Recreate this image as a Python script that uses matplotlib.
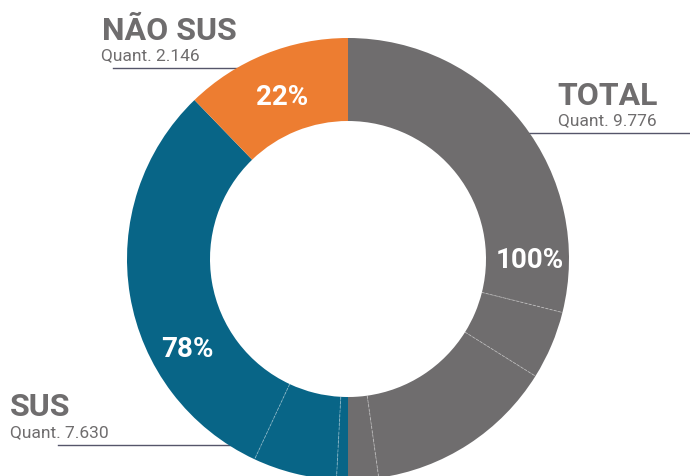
import numpy as np
import matplotlib
matplotlib.use("Agg")
import matplotlib.pyplot as plt

# totals shown in the callouts
total = 9776
sus = 7630
nao_sus = 2146

# slice sizes (degrees of the full circle)
total_slices = [104, 18, 50, 8]
sus_slices = [3, 22, 111]
nao_sus_slices = [44]

GRAY = "#6f6d6e"
BLUE = "#086587"
ORANGE = "#ed7d31"
LINE = "#55556a"

plt.rcParams['font.family'] = ['Roboto', 'DejaVu Sans']

vals = total_slices + sus_slices + nao_sus_slices
colors = ([GRAY] * len(total_slices) + [BLUE] * len(sus_slices)
          + [ORANGE] * len(nao_sus_slices))

fig = plt.figure(figsize=(6.9, 4.77), dpi=100)
ax = fig.add_axes([0, 0, 1, 1])

cx, cy = 348, 477 - 260
r_out, r_in = 221, 138
ax.pie(vals, colors=colors, startangle=90, counterclock=False,
       center=(cx, cy), radius=r_out, frame=True,
       wedgeprops=dict(width=r_out - r_in, linewidth=0))
ax.set_xlim(0, 690)
ax.set_ylim(0, 477)
ax.set_aspect('equal')
ax.axis('off')


def ang(deg):
    # clockwise from top -> math angle
    return np.deg2rad(90 - deg)


# faint separators inside each group
cum = np.cumsum(vals)
bounds = []
start = 0
for grp in (total_slices, sus_slices, nao_sus_slices):
    for k in range(len(grp) - 1):
        bounds.append(cum[start + k])
    start += len(grp)
for b in bounds:
    a = ang(b)
    ax.plot([cx + r_in * np.cos(a), cx + r_out * np.cos(a)],
            [cy + r_in * np.sin(a), cy + r_out * np.sin(a)],
            color="white", alpha=0.35, lw=0.7, ls=(0, (3, 1.5)))

# percentage labels (angle clockwise from top, radius)
label_pos = [(90, 182), (241, 184), (338, 175)]
for n, (deg, rr) in zip([total, sus, nao_sus], label_pos):
    a = ang(deg)
    ax.text(cx + rr * np.cos(a), cy + rr * np.sin(a),
            f"{round(100 * n / total)}%", color="white", fontsize=20,
            fontweight='bold', ha='center', va='center')


def fmt(n):
    return f"{n:,}".replace(",", ".")


# callouts
ax.text(102, 477 - 40, "NÃO SUS", color=GRAY, fontsize=23, fontweight='bold',
        ha='left', va='baseline')
ax.text(101, 477 - 60, f"Quant. {fmt(nao_sus)}", color=GRAY, fontsize=12.5,
        ha='left', va='baseline')
ax.plot([113, 240], [477 - 69, 477 - 69], color=LINE, lw=1, zorder=0)

ax.text(658, 477 - 105, "TOTAL", color=GRAY, fontsize=23, fontweight='bold',
        ha='right', va='baseline')
ax.text(657, 477 - 125, f"Quant. {fmt(total)}", color=GRAY, fontsize=12.5,
        ha='right', va='baseline')
ax.plot([520, 690], [477 - 134, 477 - 134], color=LINE, lw=1, zorder=0)

ax.text(10, 477 - 416, "SUS", color=GRAY, fontsize=23, fontweight='bold',
        ha='left', va='baseline')
ax.text(10, 477 - 437, f"Quant. {fmt(sus)}", color=GRAY, fontsize=12.5,
        ha='left', va='baseline')
ax.plot([58, 275], [477 - 446, 477 - 446], color=LINE, lw=1, zorder=0)

fig.savefig("out.png", dpi=100)
